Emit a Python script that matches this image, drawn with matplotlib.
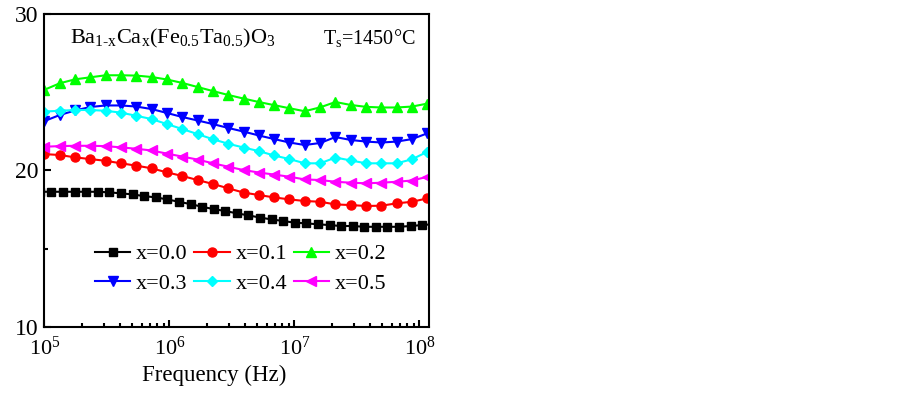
import matplotlib
matplotlib.use("Agg")
import matplotlib.pyplot as plt
from matplotlib.ticker import LogLocator, MultipleLocator, NullFormatter

plt.rcParams['font.family'] = ['Liberation Serif', 'DejaVu Serif']
plt.rcParams['mathtext.fontset'] = 'custom'
plt.rcParams['mathtext.rm'] = 'Liberation Serif'
plt.rcParams['mathtext.it'] = 'Liberation Serif:italic'
plt.rcParams['mathtext.bf'] = 'Liberation Serif:bold'

# frecuencias (Hz): la serie x=0.0 tiene una malla mas densa
freq_0 = [9.25e4, 1.14e5, 1.42e5, 1.75e5, 2.17e5, 2.69e5, 3.32e5, 4.11e5, 5.09e5,
          6.30e5, 7.80e5, 9.65e5, 1.19e6, 1.48e6, 1.83e6, 2.26e6, 2.80e6, 3.47e6,
          4.29e6, 5.31e6, 6.58e6, 8.14e6, 1.01e7, 1.25e7, 1.54e7, 1.91e7, 2.36e7,
          2.93e7, 3.62e7, 4.48e7, 5.55e7, 6.87e7, 8.50e7, 1.05e8, 1.30e8]
freq = [1.00e5, 1.33e5, 1.76e5, 2.33e5, 3.09e5, 4.10e5, 5.44e5, 7.21e5, 9.56e5,
        1.27e6, 1.68e6, 2.23e6, 2.96e6, 3.92e6, 5.20e6, 6.89e6, 9.14e6, 1.21e7,
        1.61e7, 2.13e7, 2.83e7, 3.75e7, 4.97e7, 6.59e7, 8.74e7, 1.16e8]

eps_00 = [18.63, 18.63, 18.63, 18.63, 18.63, 18.63, 18.59, 18.53, 18.46, 18.35,
          18.27, 18.14, 17.99, 17.84, 17.67, 17.52, 17.40, 17.25, 17.12, 16.98,
          16.86, 16.76, 16.65, 16.61, 16.55, 16.50, 16.44, 16.44, 16.39, 16.39,
          16.39, 16.39, 16.44, 16.50, 16.56]
eps_01 = [21.04, 20.98, 20.83, 20.72, 20.61, 20.45, 20.30, 20.13, 19.87, 19.64,
          19.38, 19.13, 18.85, 18.58, 18.42, 18.27, 18.14, 18.04, 17.99, 17.82,
          17.78, 17.72, 17.74, 17.89, 17.99, 18.21]
eps_02 = [25.15, 25.57, 25.82, 25.95, 26.08, 26.08, 26.06, 25.97, 25.81, 25.59,
          25.33, 25.07, 24.82, 24.59, 24.37, 24.17, 23.97, 23.78, 24.03, 24.37,
          24.18, 24.06, 24.02, 24.02, 24.08, 24.27]
eps_03 = [23.15, 23.54, 23.83, 24.05, 24.15, 24.15, 24.08, 23.92, 23.67, 23.41,
          23.19, 22.96, 22.71, 22.48, 22.23, 22.00, 21.78, 21.62, 21.75, 22.13,
          21.94, 21.84, 21.78, 21.84, 22.00, 22.37]
eps_04 = [23.76, 23.81, 23.86, 23.86, 23.81, 23.69, 23.49, 23.28, 22.96, 22.64,
          22.32, 21.99, 21.70, 21.46, 21.23, 20.95, 20.72, 20.45, 20.45, 20.82,
          20.63, 20.45, 20.45, 20.45, 20.71, 21.19]
eps_05 = [21.51, 21.55, 21.57, 21.57, 21.55, 21.47, 21.38, 21.27, 21.07, 20.88,
          20.69, 20.45, 20.23, 20.02, 19.86, 19.73, 19.59, 19.42, 19.38, 19.27,
          19.21, 19.17, 19.21, 19.27, 19.35, 19.59]

etiquetas = ["x=0.0", "x=0.1", "x=0.2", "x=0.3", "x=0.4", "x=0.5"]

fig = plt.figure(figsize=(9.03, 3.95), dpi=100)
ax = fig.add_axes([0.0491, 0.1729, 0.4263, 0.7917])

series = [
    (freq_0, eps_00, "black", "s", 5.5),
    (freq, eps_01, "red", "o", 6.5),
    (freq, eps_02, "#00ff00", "^", 7),
    (freq, eps_03, "blue", "v", 7),
    (freq, eps_04, "cyan", "D", 5.5),
    (freq, eps_05, "magenta", "<", 7),
]
lineas = []
for (f, e, c, m, ms), lab in zip(series, etiquetas):
    l, = ax.plot(f, e, color=c, marker=m, markersize=ms, lw=1.5, label=lab)
    lineas.append(l)

ax.set_xscale("log")
ax.set_xlim(1e5, 1.2e8)
ax.set_ylim(10, 30)
ax.yaxis.set_major_locator(MultipleLocator(10))
ax.yaxis.set_minor_locator(MultipleLocator(5))
ax.xaxis.set_major_locator(LogLocator(base=10, numticks=10))
ax.xaxis.set_minor_locator(LogLocator(base=10, subs=range(2, 10), numticks=20))
ax.xaxis.set_minor_formatter(NullFormatter())

ax.tick_params(which="both", direction="in", top=False, right=False, width=1.5)
ax.tick_params(which="major", length=5)
ax.tick_params(which="minor", length=3)
ax.tick_params(axis="y", labelsize=17, pad=4)
ax.tick_params(axis="x", labelsize=16, pad=7)
for s in ax.spines.values():
    s.set_linewidth(1.5)

ax.set_xlabel("Frequency (Hz)", fontsize=16.5, x=0.441, labelpad=4)

ax.text(0.067, 0.905,
        "$\\mathregular{Ba_{1\u2010x}Ca_x(Fe_{0.5}Ta_{0.5})O_3}$",
        transform=ax.transAxes, fontsize=16, va="baseline")
ax.text(0.725, 0.905, r"$\mathregular{T_s}$=1450$\degree$C",
        transform=ax.transAxes, fontsize=14.5, va="baseline")

orden = [0, 3, 1, 4, 2, 5]
ax.legend([lineas[i] for i in orden], [etiquetas[i] for i in orden],
          ncol=3, loc="center", bbox_to_anchor=(0.51, 0.185), frameon=False,
          fontsize=16, handlelength=1.6, handletextpad=0.25,
          columnspacing=0.3, labelspacing=0.4, borderaxespad=0)

fig.savefig("out.png", dpi=100)
